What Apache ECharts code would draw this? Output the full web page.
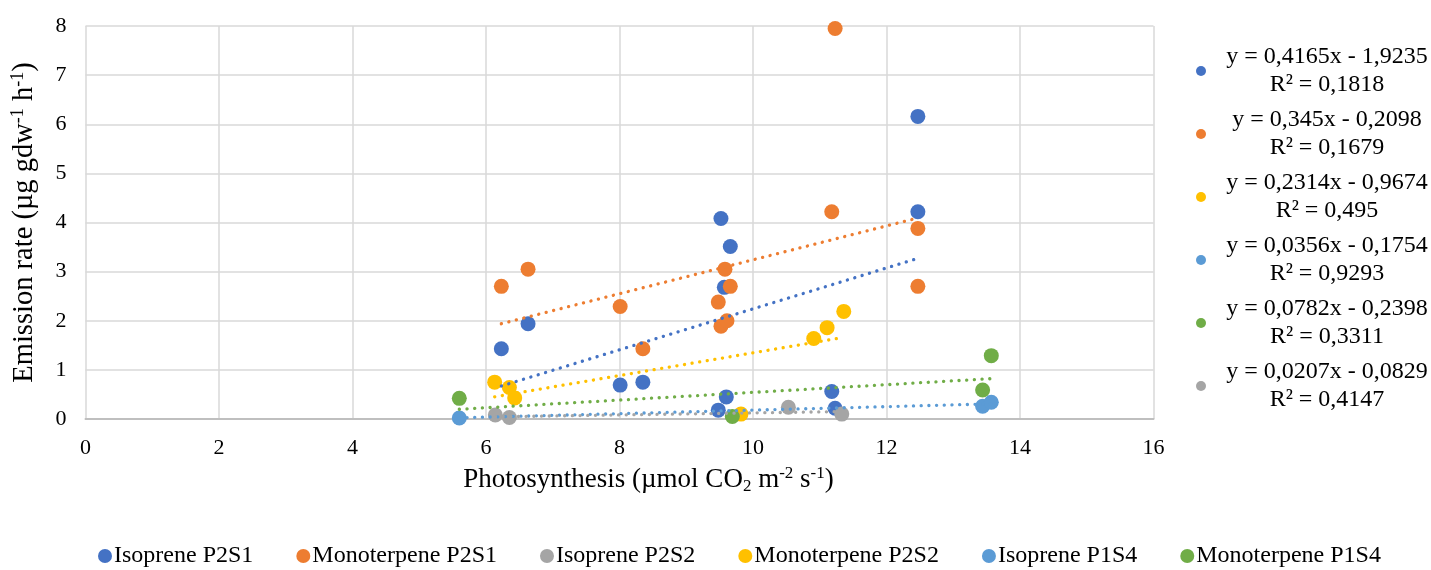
<!DOCTYPE html>
<html>
<head>
<meta charset="utf-8">
<script src="https://cdn.jsdelivr.net/npm/echarts@6/dist/echarts.min.js"></script>
<style>
  html, body { margin: 0; padding: 0; background: #fff; }
  #chart { width: 1431px; height: 570px; }
</style>
</head>
<body>
<div id="chart"></div>
<script>
// points: [photosynthesis, emission rate]
const isopreneP2S1 = [[6.23, 1.43], [6.63, 1.94], [8.01, 0.69], [8.35, 0.75], [9.52, 4.08], [9.66, 3.51],
  [9.57, 2.68], [9.6, 0.45], [9.48, 0.18], [11.18, 0.56], [11.23, 0.22], [12.47, 6.16], [12.47, 4.22]]
const monoterpeneP2S1 = [[6.23, 2.7], [6.63, 3.05], [8.01, 2.29], [8.35, 1.43], [9.48, 2.38], [9.52, 1.89],
  [9.61, 2.0], [9.58, 3.05], [9.66, 2.7], [11.23, 7.95], [11.18, 4.22], [12.47, 3.88], [12.47, 2.7]]
const isopreneP2S2 = [[6.14, 0.08], [6.35, 0.03], [10.53, 0.24], [11.33, 0.1]]
const monoterpeneP2S2 = [[6.13, 0.75], [6.35, 0.64], [6.43, 0.43], [9.82, 0.1], [10.91, 1.64], [11.11, 1.86], [11.36, 2.19]]
const isopreneP1S4 = [[5.6, 0.02], [13.44, 0.26], [13.57, 0.34]]
const monoterpeneP1S4 = [[5.6, 0.42], [9.69, 0.05], [13.44, 0.59], [13.57, 1.29]]

const seriesNames = ['Isoprene P2S1', 'Monoterpene P2S1', 'Isoprene P2S2', 'Monoterpene P2S2', 'Isoprene P1S4', 'Monoterpene P1S4']
const seriesData = [isopreneP2S1, monoterpeneP2S1, isopreneP2S2, monoterpeneP2S2, isopreneP1S4, monoterpeneP1S4]
const colors = ['#4472C4', '#ED7D31', '#A5A5A5', '#FFC000', '#5B9BD5', '#70AD47']

// trendlines, in the order the right-hand legend lists them
const trendSeries = [0, 1, 3, 4, 5, 2]
const trendSlopes = [0.4165, 0.345, 0.2314, 0.0356, 0.0782, 0.0207]
const trendIntercepts = [-1.9235, -0.2098, -0.9674, -0.1754, -0.2398, -0.0829]
const trendEquations = ['y = 0,4165x - 1,9235', 'y = 0,345x - 0,2098', 'y = 0,2314x - 0,9674',
  'y = 0,0356x - 0,1754', 'y = 0,0782x - 0,2398', 'y = 0,0207x - 0,0829']
const trendR2 = ['R² = 0,1818', 'R² = 0,1679', 'R² = 0,495', 'R² = 0,9293', 'R² = 0,3311', 'R² = 0,4147']

const xTicks = { min: 0, max: 16, interval: 2 }
const yTicks = { min: 0, max: 8, interval: 1 }

const font = 'Liberation Serif'
const gridColor = '#D9D9D9'

let series = []
seriesData.forEach((pts, i) => {
  series.push({
    name: seriesNames[i],
    type: 'scatter',
    data: pts,
    symbolSize: 15,
    itemStyle: { color: colors[i], opacity: 1 },
    z: 2 + i * 0.01
  })
})

let trendNames = []
trendSeries.forEach((s, k) => {
  let xs = seriesData[s].map(p => p[0])
  let x0 = Math.min(...xs)
  let x1 = Math.max(...xs)
  let name = trendEquations[k] + '\n' + trendR2[k]
  trendNames.push(name)
  series.push({
    name: name,
    type: 'line',
    data: [[x0, trendSlopes[k] * x0 + trendIntercepts[k]], [x1, trendSlopes[k] * x1 + trendIntercepts[k]]],
    showSymbol: false,
    symbol: 'circle',
    itemStyle: { color: colors[s] },
    lineStyle: { color: colors[s], width: 3.3, type: [0.1, 7.6], cap: 'round' },
    silent: true,
    z: 5
  })
})

let chart = echarts.init(document.getElementById('chart'))
chart.setOption({
  animation: false,
  textStyle: { fontFamily: font },
  grid: { left: 85.5, right: 277.5, top: 26, bottom: 151, containLabel: false },
  legend: [{
    data: seriesNames,
    top: 539,
    left: 93,
    icon: 'circle',
    itemWidth: 14,
    itemHeight: 14,
    itemGap: 43,
    textStyle: { fontFamily: font, fontSize: 24, color: '#000', padding: [0, 0, 0, -3] }
  }, {
    data: trendNames,
    orient: 'vertical',
    left: 1191,
    top: 40,
    icon: 'circle',
    itemWidth: 10,
    itemHeight: 10,
    itemGap: 11,
    formatter: n => n.split('\n').map(t => '{a|' + t + '}').join('\n'),
    textStyle: {
      fontFamily: font,
      rich: { a: { fontFamily: font, fontSize: 24, color: '#000', width: 232, align: 'center', lineHeight: 28 } }
    }
  }],
  xAxis: {
    type: 'value',
    min: xTicks.min,
    max: xTicks.max,
    interval: xTicks.interval,
    axisLine: { show: true, lineStyle: { color: '#BFBFBF', width: 2 } },
    axisTick: { show: false },
    axisLabel: { fontFamily: font, fontSize: 22, color: '#000', margin: 18 },
    splitLine: { show: true, lineStyle: { color: gridColor, width: 1.5 } },
    name: '{t|Photosynthesis (µmol CO}{sub|2}{t| m}{sup|-2}{t| s}{sup|-1}{t|)}',
    nameLocation: 'middle',
    nameGap: 45,
    nameTextStyle: {
      padding: [0, 0, 0, 58],
      rich: {
        t: { fontFamily: font, fontSize: 27, color: '#000' },
        sub: { fontFamily: font, fontSize: 17, color: '#000', padding: [14, 0, 0, 0] },
        sup: { fontFamily: font, fontSize: 17, color: '#000', padding: [0, 0, 12, 0] }
      }
    }
  },
  yAxis: {
    type: 'value',
    min: yTicks.min,
    max: yTicks.max,
    interval: yTicks.interval,
    axisLine: { show: false },
    axisTick: { show: false },
    axisLabel: { fontFamily: font, fontSize: 22, color: '#000', margin: 19 },
    splitLine: { show: true, lineStyle: { color: gridColor, width: 1.5 } },
    name: '{t|Emission rate (µg gdw}{sup|-1}{t| h}{sup|-1}{t|)}',
    nameLocation: 'middle',
    nameRotate: 90,
    nameGap: 46,
    nameTextStyle: {
      rich: {
        t: { fontFamily: font, fontSize: 28.5, color: '#000' },
        sup: { fontFamily: font, fontSize: 18, color: '#000', padding: [0, 0, 12, 0] }
      }
    }
  },
  series: series
})
</script>
</body>
</html>
